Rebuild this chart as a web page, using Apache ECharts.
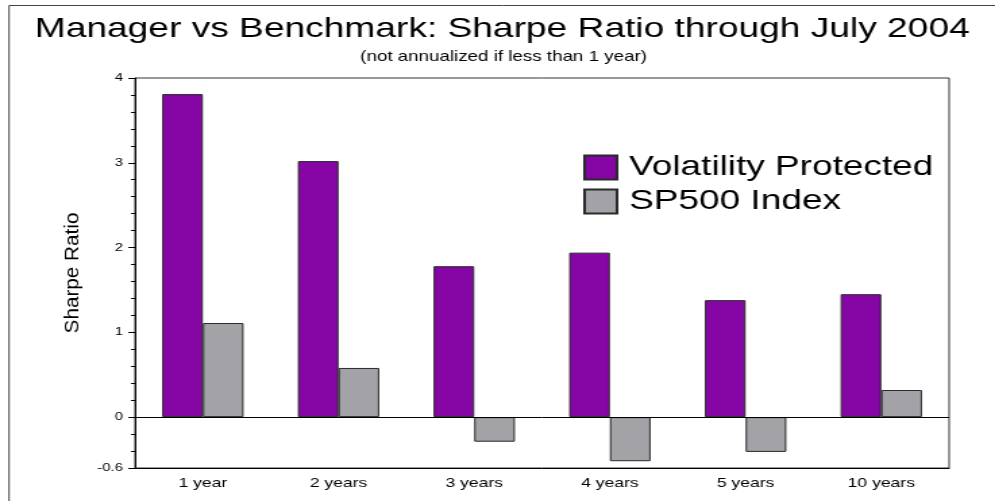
<!DOCTYPE html>
<html>
<head>
<meta charset="utf-8">
<script src="https://cdn.jsdelivr.net/npm/echarts@6/dist/echarts.min.js"></script>
<style>
  html, body { margin: 0; padding: 0; background: #fff; overflow: hidden; }
  /* the original picture is stretched sideways, so draw narrow and widen it */
  #chart { width: 737px; height: 501px; transform: scaleX(1.3501); transform-origin: 0 0; }
</style>
</head>
<body>
<div id="chart"></div>
<script>
var periods = ['1 year', '2 years', '3 years', '4 years', '5 years', '10 years'];
var volProtected = [3.81, 3.02, 1.78, 1.94, 1.38, 1.45];
var sp500 = [1.11, 0.58, -0.29, -0.52, -0.41, 0.32];
var yLabels = [-0.6, 0, 1, 2, 3, 4];

// small ticks every 0.2
var yMinor = [];
for (var i = -3; i <= 20; i++) {
  yMinor.push(i / 5);
}

var font = '"Liberation Sans", Arial, sans-serif';

var chart = echarts.init(document.getElementById('chart'));

chart.setOption({
  animation: false,
  backgroundColor: '#fff',
  textStyle: { fontFamily: font },
  title: [
    {
      text: 'Manager vs Benchmark: Sharpe Ratio through July 2004',
      left: 367,
      top: 10,
      textAlign: 'center',
      textStyle: { fontSize: 27.5, fontWeight: 'normal', color: '#000', fontFamily: font }
    },
    {
      text: '(not annualized if less than 1 year)',
      left: 368,
      top: 45,
      textAlign: 'center',
      textStyle: { fontSize: 13.9, fontWeight: 'normal', color: '#000', fontFamily: font }
    }
  ],
  legend: {
    orient: 'vertical',
    left: 427,
    top: 149,
    icon: 'rect',
    itemWidth: 24,
    itemHeight: 24,
    itemGap: 7,
    textStyle: { fontSize: 27.4, color: '#000', fontFamily: font, padding: [0, 0, 0, 4] },
    data: ['Volatility Protected', 'SP500 Index']
  },
  grid: {
    left: 100,
    right: 34,
    top: 78,
    bottom: 33,
    show: true,
    borderColor: '#333',
    borderWidth: 1
  },
  xAxis: {
    type: 'category',
    data: periods,
    axisLine: { onZero: false, lineStyle: { color: '#000' } },
    axisTick: { alignWithLabel: true, length: 6, lineStyle: { color: '#000' } },
    axisLabel: { fontSize: 13, color: '#000', margin: 9, fontFamily: font }
  },
  yAxis: [
    {
      type: 'value',
      min: -0.6,
      max: 4,
      axisLine: { show: true, lineStyle: { color: '#000' } },
      axisTick: { show: true, length: 5, customValues: yLabels, lineStyle: { color: '#000' } },
      axisLabel: { customValues: yLabels, fontSize: 11, color: '#000', margin: 9, fontFamily: font },
      splitLine: { show: false }
    },
    {
      type: 'value',
      min: -0.6,
      max: 4,
      position: 'left',
      axisLine: { show: false },
      axisTick: { show: true, length: 3, customValues: yMinor, lineStyle: { color: '#000' } },
      axisLabel: { show: false },
      splitLine: { show: false }
    }
  ],
  graphic: [
    {
      // outer frame of the picture
      type: 'rect',
      silent: true,
      z: -1,
      shape: { x: 6.7, y: 5.5, width: 900, height: 600 },
      style: { fill: 'none', stroke: '#444', lineWidth: 1 }
    },
    {
      type: 'text',
      x: 54,
      y: 273,
      rotation: Math.PI / 2,
      scaleX: 1.38,
      style: {
        text: 'Sharpe Ratio',
        font: '15px "Liberation Sans", Arial, sans-serif',
        fill: '#000',
        align: 'center',
        verticalAlign: 'middle'
      }
    }
  ],
  series: [
    {
      name: 'Volatility Protected',
      type: 'bar',
      data: volProtected,
      barGap: '0%',
      barCategoryGap: '40%',
      itemStyle: { color: '#8505a5', borderColor: '#2a2a2a', borderWidth: 1 },
      markLine: {
        silent: true,
        symbol: 'none',
        label: { show: false },
        lineStyle: { color: '#000', width: 1, type: 'solid' },
        data: [{ yAxis: 0 }]
      }
    },
    {
      name: 'SP500 Index',
      type: 'bar',
      data: sp500,
      itemStyle: { color: '#a3a2a7', borderColor: '#2a2a2a', borderWidth: 1 }
    }
  ]
});
</script>
</body>
</html>
